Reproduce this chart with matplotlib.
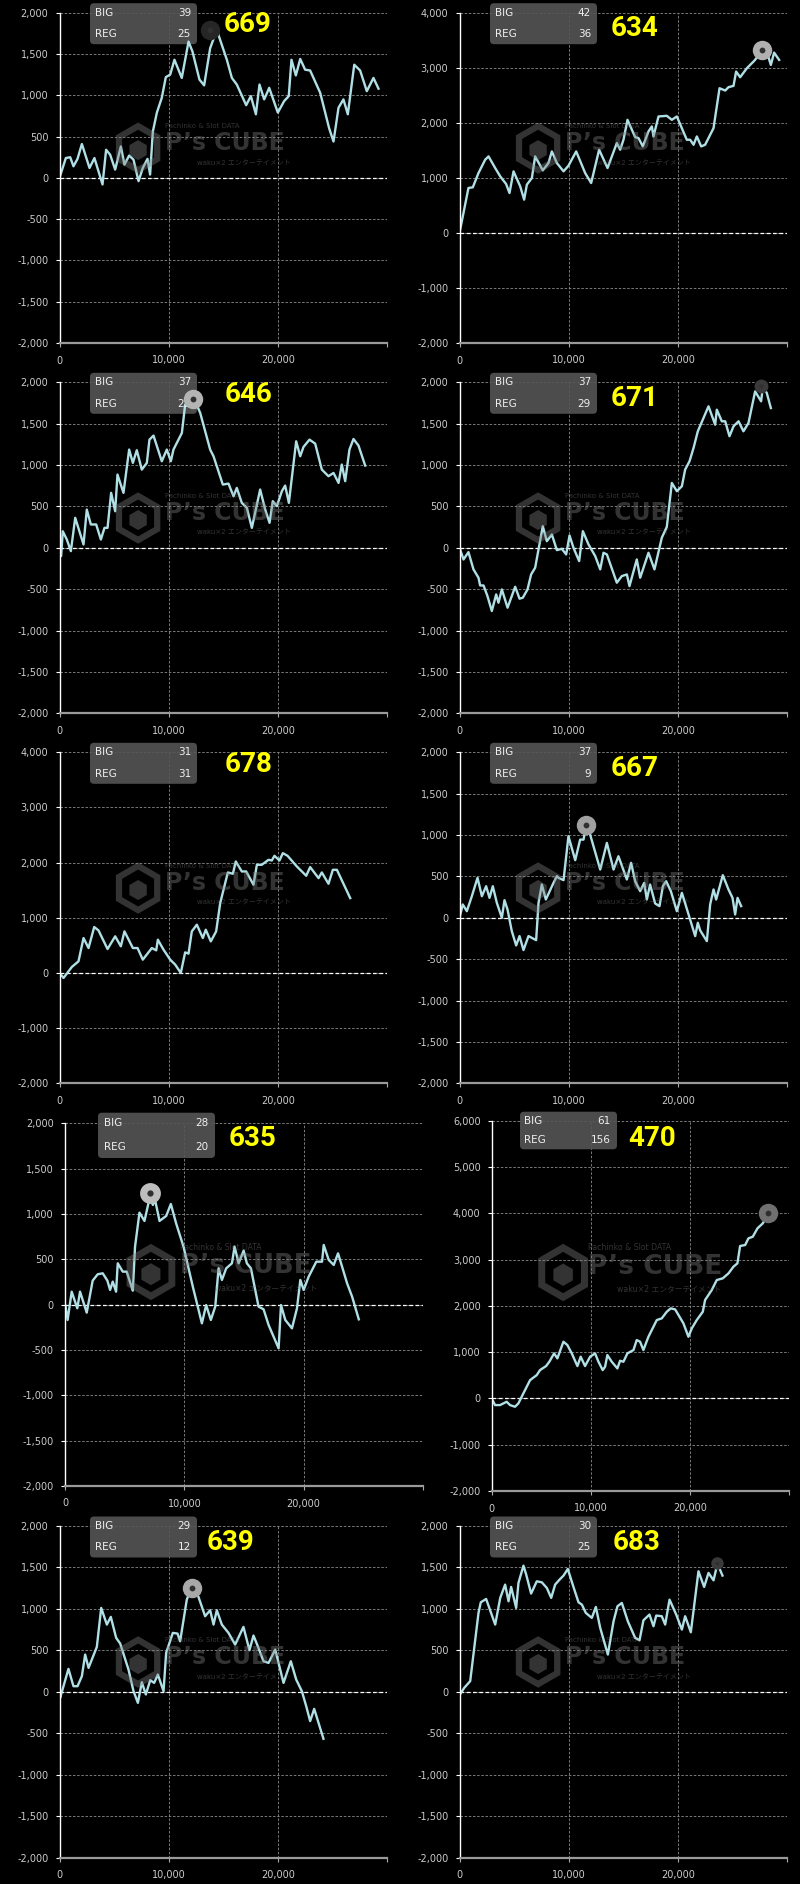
import matplotlib.pyplot as plt
import matplotlib.patches as mpatches
import matplotlib.transforms as mtransforms

plt.rcParams['axes.unicode_minus'] = False
plt.rcParams['font.family'] = ['DejaVu Sans', 'Noto Sans CJK JP']

W, H = 800, 1884

# ---- values ----
machines = ['669', '634', '646', '671', '678', '667', '635', '470', '639', '683']
big = [39, 42, 37, 37, 31, 37, 28, 61, 29, 30]
reg = [25, 36, 23, 29, 31, 9, 20, 156, 12, 25]
y_top = [2000, 4000, 2000, 2000, 4000, 2000, 2000, 6000, 2000, 2000]
y_step = [500, 1000, 500, 500, 1000, 500, 500, 1000, 500, 500]
x_ticks = [0, 10000, 20000, 30000]
x_labels = ['0', '10,000', '20,000', '']

s669 = [(0, 0), (580, 240), (980, 250), (1280, 140), (1650, 230), (2050, 410), (2750, 120),
        (3200, 240), (3940, -80), (4270, 340), (4640, 280), (5100, 100), (5620, 380),
        (5950, 160), (6380, 270), (6780, 220), (7240, -40), (7630, 120), (8060, 230),
        (8300, 40), (8550, 560), (8920, 790), (9370, 970), (9740, 1220), (10140, 1250),
        (10530, 1430), (11200, 1210), (11820, 1650), (12180, 1530), (12820, 1190),
        (13250, 1120), (13800, 1570), (14410, 1790), (15330, 1430), (15790, 1210),
        (16240, 1130), (17100, 880), (17530, 990), (17990, 770), (18320, 1130), (18750, 950),
        (19210, 1090), (20000, 790), (20580, 930), (21000, 990), (21250, 1430), (21650, 1240),
        (22050, 1440), (22500, 1310), (22960, 1300), (23880, 1030), (24700, 600),
        (25100, 440), (25560, 850), (26010, 950), (26410, 770), (27000, 1370), (27540, 1300),
        (28150, 1050), (28760, 1210), (29220, 1080)]
s634 = [(0, 0), (820, 816), (1220, 828), (1740, 1088), (2350, 1329), (2660, 1390), (3270, 1178),
        (3730, 1027), (4270, 888), (4580, 725), (4950, 1118), (5560, 846), (5920, 604),
        (6170, 876), (6630, 997), (6930, 1390), (7630, 1136), (8150, 1269), (8460, 1480),
        (8920, 1269), (9530, 1118), (9980, 1220), (10690, 1480), (11510, 1088), (12060, 906),
        (12790, 1511), (13560, 1178), (14410, 1631), (14720, 1511), (15020, 1692),
        (15390, 2054), (16090, 1740), (16400, 1722), (16790, 1571), (17310, 1843),
        (17620, 1934), (17770, 1752), (18230, 2115), (18990, 2127), (19450, 2054),
        (19910, 2115), (20820, 1692), (21130, 1692), (21440, 1601), (21740, 1752),
        (22140, 1571), (22500, 1601), (23270, 1903), (23820, 2628), (24340, 2586),
        (24640, 2647), (25100, 2671), (25340, 2931), (25710, 2828), (26320, 2991),
        (26990, 3124), (27690, 3293), (28150, 3293), (28520, 3051), (28820, 3275),
        (29280, 3142)]
s646 = [(0, -100), (150, -100), (300, 200), (670, 100), (1040, -40), (1440, 362), (2200, 40),
        (2500, 462), (2870, 282), (3360, 282), (3790, 100), (4120, 241), (4400, 241),
        (4730, 664), (5100, 442), (5310, 885), (5860, 664), (6380, 1187), (6720, 1026),
        (7080, 1179), (7540, 945), (8000, 1026), (8240, 1307), (8610, 1356), (9370, 1046),
        (9830, 1187), (10200, 1046), (10440, 1187), (11210, 1388), (11510, 1730),
        (11970, 1750), (12270, 1822), (12890, 1629), (13800, 1187), (14110, 1106),
        (14960, 764), (15480, 776), (15940, 623), (16240, 724), (16700, 543), (17160, 483),
        (17620, 241), (18380, 704), (18840, 463), (19240, 302), (19540, 563), (19910, 503),
        (20370, 684), (20670, 752), (21010, 543), (21680, 1287), (22050, 1106),
        (22350, 1219), (22900, 1307), (23420, 1259), (24030, 945), (24640, 865),
        (25100, 905), (25560, 784), (25860, 1006), (26170, 805), (26560, 1187),
        (26930, 1315), (27390, 1235), (28000, 994)]
s671 = [(0, 0), (370, -141), (820, -52), (1280, -261), (1740, -362), (1890, -455), (2200, -455),
        (2560, -583), (2960, -764), (3360, -563), (3570, -664), (3880, -503), (4400, -724),
        (5100, -471), (5500, -615), (5800, -603), (6230, -503), (6560, -322), (6930, -241),
        (7630, 261), (8000, 80), (8460, 161), (8920, -28), (9370, -12), (9770, -80),
        (10080, 149), (10440, 0), (10960, -161), (11300, 201), (11820, 40), (12430, -100),
        (12890, -261), (13190, -60), (13500, -80), (14410, -422), (14870, -342),
        (15330, -322), (15570, -463), (16240, -141), (16550, -362), (17310, -60),
        (17860, -261), (18530, 121), (18990, 253), (19450, 784), (19910, 684), (20370, 744),
        (20670, 945), (21070, 1046), (21440, 1207), (21830, 1408), (22810, 1710),
        (23420, 1488), (23570, 1669), (24030, 1529), (24340, 1529), (24730, 1348),
        (25100, 1468), (25560, 1529), (26010, 1408), (26470, 1508), (27080, 1890),
        (27630, 1770), (27790, 1951), (28150, 1870), (28520, 1689)]
s678 = [(0, 0), (370, -90), (1130, 109), (1740, 211), (2200, 633), (2660, 452), (3180, 833),
        (3570, 772), (4400, 434), (5100, 664), (5620, 483), (5950, 754), (6720, 452),
        (7150, 452), (7630, 241), (8460, 452), (8860, 410), (9010, 603), (9530, 422),
        (10140, 241), (10600, 151), (11110, 0), (11510, 374), (11820, 350), (12120, 754),
        (12580, 875), (13130, 633), (13400, 784), (13860, 573), (14350, 754), (14720, 1267),
        (15420, 1822), (15880, 1798), (16150, 2021), (16700, 1840), (17100, 1840),
        (17770, 1599), (18080, 1961), (18530, 1961), (19150, 2051), (19450, 2039),
        (19690, 2124), (20150, 2039), (20460, 2172), (20890, 2124), (21740, 1931),
        (22600, 1762), (22960, 1919), (23730, 1719), (24030, 1822), (24640, 1617),
        (25040, 1870), (25410, 1870), (26630, 1357)]
s667 = [(0, 0), (300, 161), (670, 80), (1130, 261), (1650, 483), (2050, 261), (2440, 382),
        (2750, 241), (3050, 382), (3420, 181), (3880, 0), (4120, 213), (4400, 100),
        (4790, -161), (5190, -334), (5500, -221), (5860, -390), (6320, -221), (7020, -270),
        (7240, 181), (7540, 402), (7910, 221), (8610, 422), (8920, 503), (9070, 483),
        (9530, 455), (9980, 986), (10600, 696), (11050, 945), (11360, 945), (11660, 1146),
        (12890, 583), (13500, 905), (14110, 583), (14560, 744), (15330, 463), (15720, 664),
        (16090, 442), (16550, 322), (16920, 422), (17160, 221), (17460, 402), (17920, 173),
        (18320, 141), (18630, 382), (18930, 442), (19360, 322), (19910, 80), (20370, 302),
        (20890, 80), (21590, -221), (21830, -60), (22050, -153), (22660, -282), (22960, 161),
        (23270, 342), (23510, 221), (24120, 515), (24640, 342), (25010, 241), (25250, 40),
        (25470, 241), (25800, 141)]
s635 = [(0, 0), (50, -22), (220, -169), (560, 143), (1030, -40), (1260, 143), (1820, -88),
        (2320, 265), (2740, 335), (3160, 346), (3550, 265), (3780, 162), (4000, 254),
        (4280, 143), (4420, 456), (4840, 364), (5170, 364), (5680, 154), (5870, 640),
        (6240, 1015), (6660, 923), (7130, 1199), (7360, 1099), (7550, 1154), (7920, 923),
        (8480, 978), (8870, 1110), (9310, 897), (9930, 640), (10710, 199), (11470, -206),
        (11830, -4), (12220, -169), (12590, -22), (12870, 401), (13150, 272), (13510, 401),
        (13990, 456), (14210, 640), (14550, 456), (14970, 596), (15240, 456), (15580, 401),
        (16220, -22), (16640, -51), (17060, -224), (17480, -353), (17900, -482),
        (18100, -4), (18460, -169), (19020, -261), (19440, -40), (19720, 272), (20000, 162),
        (20420, 309), (21060, 474), (21540, 474), (21680, 658), (22100, 493), (22520, 438),
        (22880, 566), (23220, 419), (23640, 235), (24060, 88), (24620, -162)]
s470 = [(0, 0), (340, -144), (840, -144), (1510, -72), (1850, -144), (2350, -180), (2690, -108),
        (3190, 108), (3870, 396), (4540, 504), (4870, 612), (5480, 699), (5810, 793),
        (6290, 973), (6620, 865), (7230, 1225), (7630, 1153), (8070, 973), (8640, 699),
        (8970, 901), (9410, 699), (9920, 901), (10420, 973), (10760, 793), (11190, 612),
        (11430, 684), (11660, 937), (12100, 793), (12670, 648), (12940, 814), (13280, 793),
        (13680, 973), (14290, 1045), (14620, 1261), (14960, 1225), (15290, 1045),
        (15800, 1333), (16640, 1693), (17140, 1729), (17650, 1873), (18050, 1945),
        (18490, 1924), (19330, 1621), (19830, 1333), (20170, 1513), (20670, 1693),
        (21280, 1873), (21510, 2125), (22180, 2341), (22690, 2558), (23290, 2594),
        (23870, 2702), (24370, 2846), (24770, 2918), (25040, 3293), (25550, 3314),
        (25880, 3458), (26320, 3494), (26790, 3674), (27330, 3782), (27900, 3998)]
s639 = [(0, -30), (60, -72), (820, 277), (1280, 68), (1650, 68), (2050, 189), (2350, 450),
        (2660, 289), (3420, 542), (3820, 1012), (4340, 811), (4700, 904), (5190, 651),
        (5560, 582), (6320, 269), (6780, 8), (7180, -133), (7540, 116), (7910, -32),
        (8310, 141), (8670, 108), (9010, 209), (9530, 8), (9770, 470), (10380, 711),
        (10810, 703), (11050, 610), (11660, 1112), (12120, 1265), (12730, 1145),
        (13340, 912), (13800, 984), (14110, 811), (14410, 984), (14870, 811), (15480, 711),
        (16090, 570), (16850, 783), (17400, 502), (17770, 679), (18140, 558), (18690, 369),
        (19150, 349), (19760, 510), (20520, 108), (21190, 369), (21680, 149), (22200, 8),
        (22600, -173), (22960, -353), (23330, -205), (24180, -566)]
s683 = [(0, -40), (430, 48), (980, 129), (1740, 952), (1950, 1080), (2440, 1120), (3270, 811),
        (3730, 1133), (4180, 1293), (4490, 1092), (4730, 1265), (5190, 1012), (5400, 1313),
        (5860, 1522), (6110, 1414), (6560, 1185), (7080, 1333), (7540, 1321), (8000, 1253),
        (8400, 1133), (8760, 1293), (9160, 1353), (9530, 1402), (9920, 1482), (10440, 1265),
        (10900, 1080), (11210, 1052), (11570, 952), (12120, 892), (12490, 1024),
        (12890, 771), (13590, 450), (14110, 851), (14470, 1032), (14870, 1072),
        (15420, 851), (16090, 651), (16490, 622), (16850, 863), (17400, 932), (17770, 791),
        (18020, 920), (18530, 912), (18840, 811), (19240, 1112), (19850, 932), (20370, 751),
        (20670, 912), (21190, 719), (21890, 1454), (22410, 1265), (22810, 1434),
        (23270, 1345), (23630, 1546), (24090, 1402)]
series = [s669, s634, s646, s671, s678, s667, s635, s470, s639, s683]

# highlighted point (grey dot) per chart, None where there is none
peak_x = [13800, 27700, 12200, 27600, None, 11600, 7130, 27900, 12120, 23630]
peak_y = [1790, 3320, 1800, 1950, None, 1126, 1228, 4013, 1253, 1554]

# ---- layout (pixels, top-left origin) ----
rects = [(59.5, 12.7, 387, 343), (459.5, 12.7, 787, 343),
         (59.5, 382.3, 387, 713.3), (459.5, 382.3, 787, 713.3),
         (59.5, 752.3, 387, 1083.3), (459.5, 752.3, 787, 1083.3),
         (65, 1123.3, 423, 1486), (491.7, 1120.7, 789.3, 1491),
         (59.5, 1526, 387, 1857.7), (459.5, 1526, 787, 1857.7)]
num_pos = [(248, 25), (635, 28), (249, 394), (635, 398), (249, 764), (635, 768),
           (252, 1138), (652, 1138), (231, 1542), (637, 1542)]
peak_col = ['#262626', '#b0b0b0', '#b4b4b4', '#3a3a3a', None, '#a0a0a0',
            '#bdbdbd', '#707070', '#a8a8a8', '#3a3a3a']
peak_ms = [14, 14, 14, 10, 0, 14, 15, 14, 14, 9]

fig = plt.figure(figsize=(W / 100, H / 100), dpi=100, facecolor='black')
pix = mtransforms.Affine2D().scale(1, -1).translate(0, H)


def info_box(i):
    l, t, r, b = rects[i]
    if i == 6:
        return (98, 1112.7, 215, 1158), 1123, 1147, 104.3, 208.3
    if i == 7:
        return (520, 1111.7, 617, 1149.3), 1120.7, 1140, 524.3, 611
    return (l + 30.5, t - 9.5, l + 137.5, t + 31.5), t, t + 21.5, l + 36, l + 131.5


for i, s in enumerate(series):
    l, t, r, b = rects[i]
    w, h = r - l, b - t
    ax = fig.add_axes([l / W, 1 - b / H, w / W, h / H])
    ax.set_facecolor('black')
    xs = [p[0] for p in s]
    ys = [p[1] for p in s]

    ax.set_xlim(0, 30000)
    ax.set_ylim(-2000, y_top[i])
    yt = list(range(-2000, y_top[i] + 1, y_step[i]))
    ax.set_yticks(yt)
    ax.set_yticklabels([f'{v:,}' for v in yt])
    ax.set_xticks(x_ticks)
    ax.set_xticklabels(x_labels)
    ax.tick_params(axis='y', colors='white', labelcolor='#cccccc', labelsize=7,
                   length=3, width=0.8, pad=5)
    ax.tick_params(axis='x', colors='#aaaaaa', labelcolor='#cccccc', labelsize=7,
                   length=3, width=0.8, pad=6)
    for sp in ['top', 'right']:
        ax.spines[sp].set_visible(False)
    ax.spines['left'].set_color('white')
    ax.spines['left'].set_linewidth(1.0)
    ax.spines['bottom'].set_color('#9a9a9a')
    ax.spines['bottom'].set_linewidth(1.6)
    ax.set_axisbelow(True)
    ax.grid(True, color='#8c8c8c', linestyle=(0, (3, 2)), linewidth=0.6)
    ax.axhline(0, color='white', linestyle=(0, (3, 2)), linewidth=0.9, zorder=1)

    ax.plot(xs, ys, color='#b0e0e6', linewidth=1.7, zorder=2)

    # stats box
    (bl, bt, br, bb), y_big, y_reg, tl, tr = info_box(i)
    ax.add_patch(mpatches.FancyBboxPatch((bl, bt), br - bl, bb - bt,
                                         boxstyle='round,pad=0,rounding_size=4',
                                         transform=pix, facecolor='#555555', alpha=0.9,
                                         edgecolor='none', zorder=1.5, clip_on=False))
    for lab, val, yy in [('BIG', big[i], y_big), ('REG', reg[i], y_reg)]:
        ax.text(tl, yy, lab, transform=pix, color='#f0f0f0', fontsize=7.5,
                ha='left', va='center', zorder=3)
        ax.text(tr, yy, str(val), transform=pix, color='#f0f0f0', fontsize=7.5,
                ha='right', va='center', zorder=3)

    # watermark
    sc = h / 330
    wm_patch = dict(transform=pix, alpha=0.4, zorder=3.5, clip_on=False)
    wm = dict(wm_patch, color='#808080')
    cx, cy = l + 0.24 * w, t + 0.41 * h
    ax.add_patch(mpatches.RegularPolygon((cx, cy), 6, radius=22 * sc, fill=False,
                                         linewidth=4.5 * sc, edgecolor='#808080', **wm_patch))
    ax.add_patch(mpatches.RegularPolygon((cx, cy + 2 * sc), 6, radius=10 * sc,
                                         facecolor='#808080', edgecolor='none', **wm_patch))
    ax.text(l + 0.322 * w, t + 0.394 * h, 'P’s CUBE', fontsize=17 * sc,
            fontweight='bold', ha='left', va='center', **wm)
    ax.text(l + 0.322 * w, t + 0.343 * h, 'Pachinko & Slot DATA', fontsize=5 * sc,
            ha='left', va='center', **wm)
    ax.text(l + 0.42 * w, t + 0.455 * h, 'waku×2 エンターテイメント', fontsize=5 * sc,
            ha='left', va='center', **wm)

    # highlighted point
    if peak_x[i] is not None:
        ax.plot([peak_x[i]], [peak_y[i]], 'o', ms=peak_ms[i], mfc=peak_col[i],
                mec='none', zorder=4, clip_on=False)
        ax.plot([peak_x[i]], [peak_y[i]], 'o', ms=peak_ms[i] * 0.3, mfc='#303030',
                mec='none', zorder=4.5, clip_on=False)

    fig.text(num_pos[i][0], num_pos[i][1], machines[i], transform=pix,
             color='#ffff00', fontsize=20, fontweight='bold',
             family=['Roboto', 'DejaVu Sans'], ha='center', va='center')

fig.savefig('out.png', dpi=100, facecolor='black')
